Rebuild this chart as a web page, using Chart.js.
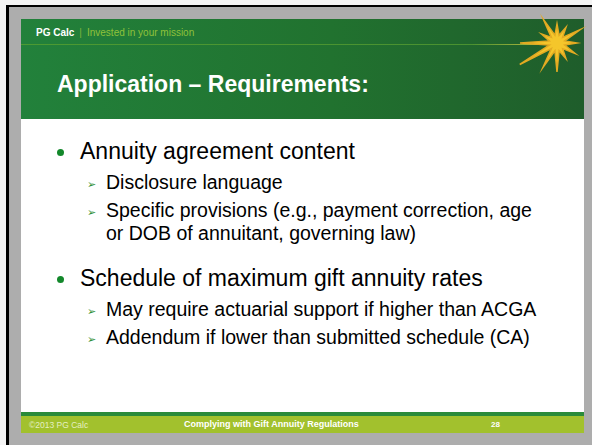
<!DOCTYPE html>
<html>
<head>
<meta charset="utf-8">
<script src="https://cdn.jsdelivr.net/npm/chart.js"></script>
<style>
  body { margin: 0; width: 592px; height: 445px; background: #f4f4f4; position: relative; overflow: hidden;
         font-family: "Liberation Sans", Arial, sans-serif; }
  #frame { position: absolute; left: 6px; top: 5px; right: 0; bottom: 0; background: #adadad;
           border-left: 3px solid #000; border-top: 2px solid #000; }
  #slide { position: absolute; left: 21px; top: 19px; width: 563px; height: 414px; background: #fff; }
  #header { position: absolute; left: 0; top: 0; width: 563px; height: 100px;
            background: linear-gradient(to right, #22813b, #21722f 55%, #1f5d2b); }
  #brand { position: absolute; left: 15px; top: 7.5px; font-size: 10px; line-height: 12px; white-space: nowrap; }
  #brand b { color: #fff; }
  #brand .sep { color: #7fb53a; margin: 0 5px; }
  #brand .tag { color: #8fc23a; }
  #rule { position: absolute; left: 0; top: 25px; width: 530px; height: 1px;
          background: linear-gradient(to right, #4c9a32, #4a9130 85%, #c9c040); }
  #title { position: absolute; left: 36px; top: 52px; color: #fff; font-weight: bold; font-size: 23px; line-height: 26px; white-space: nowrap; }
  #body { position: absolute; left: 0; top: 117px; width: 563px; }
  .l1 { position: relative; padding-left: 59px; font-size: 23px; line-height: 30px; color: #000; white-space: nowrap; }
  .l1 .dot { position: absolute; left: 36px; top: 13px; width: 7px; height: 7px; border-radius: 50%; background: #13882b; }
  .l2 { position: relative; padding-left: 85px; font-size: 19.5px; line-height: 23px; color: #000; margin-top: 5px; white-space: nowrap; }
  .l2 .arr { position: absolute; left: 66px; top: 2px; font-size: 11px; line-height: 23px; color: #2f8f34; font-family: "DejaVu Sans"; }
  .gap { margin-top: 18px; }
  #footbar { position: absolute; left: 0; top: 393px; width: 563px; height: 4px; background: #2a8b3a; }
  #foot { position: absolute; left: 0; top: 397px; width: 563px; height: 17px; background: #a2c12d; font-size: 8.5px; }
  #foot .copy { position: absolute; left: 8px; top: 4px; color: #e4efc2; }
  #foot .name { position: absolute; left: 163px; top: 3px; color: #fff; font-weight: bold; font-size: 9px; }
  #foot .page { position: absolute; left: 470px; top: 4px; color: #fff; font-weight: bold; font-size: 8px; }
  #starWrap { position: absolute; left: 512px; top: -2px; width: 90px; height: 90px; }
</style>
</head>
<body>
<div id="frame"></div>
<div id="slide">
  <div id="header">
    <div id="brand"><b>PG Calc</b><span class="sep">|</span><span class="tag">Invested in your mission</span></div>
    <div id="rule"></div>
    <div id="title"></div>
  </div>
  <div id="body"></div>
  <div id="footbar"></div>
  <div id="foot">
    <span class="copy">©2013 PG Calc</span>
    <span class="name">Complying with Gift Annuity Regulations</span>
    <span class="page">28</span>
  </div>
</div>
<div id="starWrap"><canvas id="star" width="90" height="90"></canvas></div>
<script>
const slideTitle = 'Application – Requirements:';
const mainPoints = ['Annuity agreement content', 'Schedule of maximum gift annuity rates'];
const subPoints = [
  [['Disclosure language'],
   ['Specific provisions (e.g., payment correction, age', 'or DOB of annuitant, governing law)']],
  [['May require actuarial support if higher than ACGA'],
   ['Addendum if lower than submitted schedule (CA)']]
];
// starburst logo: ray lengths clockwise from the top
const rayLengths = [19, 18, 27, 20, 21, 18, 29, 28, 43, 37, 18, 27];
const rayInner = 8;

document.getElementById('title').textContent = slideTitle;
const body = document.getElementById('body');
mainPoints.forEach((p, i) => {
  const d = document.createElement('div');
  d.className = 'l1' + (i === 0 ? '' : ' gap');
  d.innerHTML = '<span class="dot"></span>';
  d.appendChild(document.createTextNode(p));
  body.appendChild(d);
  subPoints[i].forEach(lines => {
    const s = document.createElement('div');
    s.className = 'l2';
    s.innerHTML = '<span class="arr">➢</span>' + lines.join('<br>');
    body.appendChild(s);
  });
});

const starData = [];
rayLengths.forEach(r => { starData.push(r); starData.push(rayInner); });

const ctxStar = document.getElementById('star').getContext('2d');
const starChart = new Chart(ctxStar, {
  type: 'radar',
  data: {
    labels: starData.map(() => ''),
    datasets: [{
      data: starData,
      backgroundColor: '#f4c62b',
      borderColor: '#e2aa22',
      borderWidth: 1.5,
      fill: true,
      pointRadius: 0,
      tension: 0
    }]
  },
  options: {
    responsive: false,
    animation: false,
    layout: { padding: 0 },
    scales: {
      r: { min: 0, max: 45, display: false }
    },
    plugins: {
      legend: { display: false },
      tooltip: { enabled: false }
    }
  }
});
</script>
</body>
</html>
